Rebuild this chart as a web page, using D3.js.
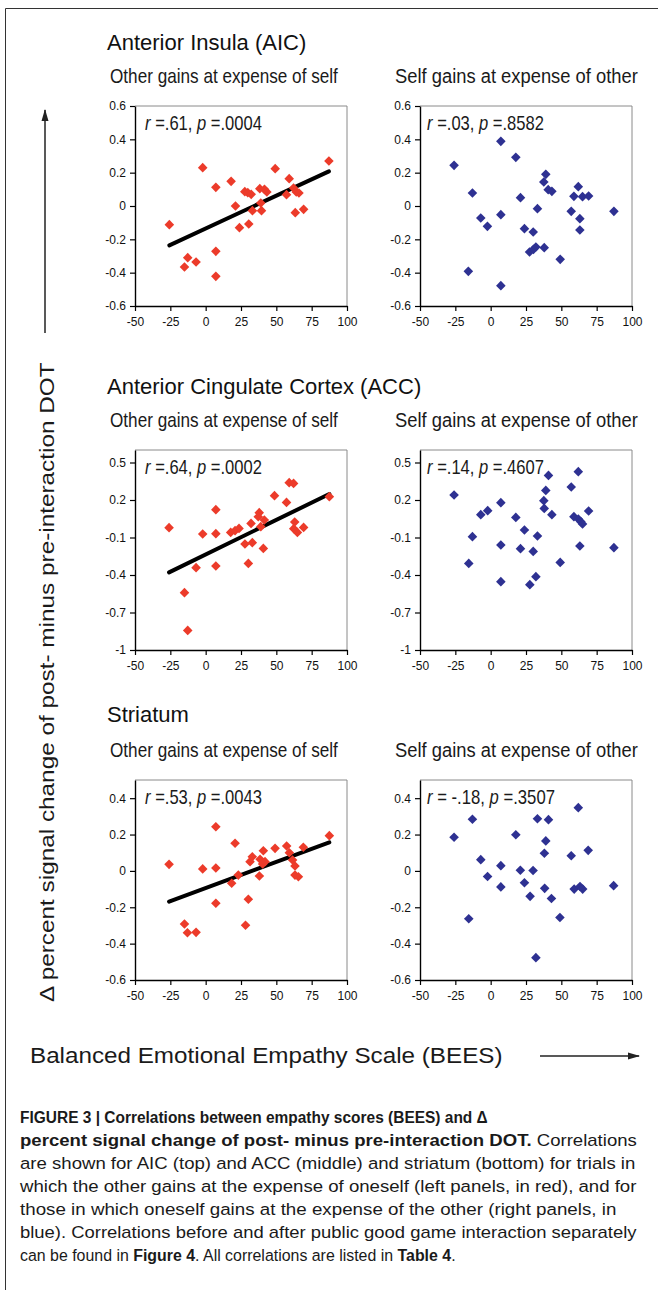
<!DOCTYPE html>
<html>
<head>
<meta charset="utf-8">
<script src="https://cdn.jsdelivr.net/npm/d3@7"></script>
<style>
  body { margin: 0; background: #fff; }
  svg { display: block; }
</style>
</head>
<body>
<svg id="fig" width="658" height="1290"></svg>
<script>
// BEES score (x) and delta signal change (y) for each panel
const aicOtherX = [-25.7, -15.0, -12.7, -6.8, -2.1, 7.2, 7.2, 7.2, 18.0, 21.1, 23.9, 27.7, 29.8, 32.2, 30.5, 33.1, 38.3, 39.0, 39.5, 41.6, 43.3, 49.2, 57.2, 59.1, 62.2, 63.4, 64.1, 66.0, 69.3, 87.2];
const aicOtherY = [-0.112, -0.366, -0.31, -0.336, 0.23, 0.112, -0.272, -0.422, 0.148, 0.0, -0.13, 0.086, 0.08, 0.07, -0.108, -0.028, 0.104, 0.018, -0.028, 0.1, 0.084, 0.224, 0.068, 0.164, 0.108, -0.04, 0.084, 0.078, -0.02, 0.27];
const aicSelfX = [-25.9, -15.8, -12.9, -7.0, -2.3, 7.2, 7.2, 7.2, 17.8, 21.1, 23.9, 27.5, 30.1, 30.3, 32.0, 33.1, 37.6, 39.0, 37.9, 40.7, 43.3, 49.2, 57.0, 58.9, 62.0, 63.1, 63.1, 65.0, 69.3, 87.2];
const aicSelfY = [0.244, -0.392, 0.078, -0.072, -0.122, 0.388, -0.052, -0.478, 0.292, 0.05, -0.136, -0.276, -0.156, -0.26, -0.246, -0.016, 0.144, 0.19, -0.25, 0.098, 0.088, -0.32, -0.032, 0.058, 0.116, -0.076, -0.144, 0.056, 0.06, -0.032];

const accOtherX = [-25.9, -15.0, -12.7, -6.8, -2.1, 7.2, 7.2, 7.2, 17.7, 20.8, 23.6, 27.8, 30.2, 32.1, 33.0, 37.9, 37.2, 39.0, 40.8, 41.5, 48.7, 57.2, 59.1, 62.2, 63.0, 62.3, 64.9, 69.3, 87.5];
const accOtherY = [-0.021, -0.541, -0.843, -0.341, -0.072, 0.123, -0.069, -0.328, -0.059, -0.045, -0.027, -0.152, -0.307, 0.013, -0.141, 0.099, 0.066, -0.013, -0.187, 0.04, 0.235, 0.181, 0.339, 0.333, 0.024, -0.029, -0.059, -0.019, 0.227];
const accSelfX = [-25.9, -15.5, -12.9, -7.0, -2.1, 7.2, 7.2, 7.2, 17.8, 21.1, 23.9, 27.7, 30.1, 32.0, 33.1, 37.6, 37.9, 39.0, 40.9, 43.3, 49.2, 57.0, 58.9, 62.0, 62.0, 63.1, 63.8, 65.0, 69.3, 87.2];
const accSelfY = [0.24, -0.307, -0.093, 0.083, 0.115, 0.179, -0.16, -0.453, 0.061, -0.189, -0.04, -0.477, -0.211, -0.413, -0.088, 0.195, 0.133, 0.277, 0.397, 0.083, -0.299, 0.304, 0.067, 0.427, 0.048, -0.168, 0.027, 0.008, 0.112, -0.181];

const strOtherX = [-25.9, -15.0, -12.9, -6.8, -2.1, 7.2, 7.2, 7.2, 18.4, 20.8, 23.1, 28.2, 30.2, 31.4, 33.0, 38.5, 38.0, 40.3, 40.8, 42.0, 49.1, 57.3, 59.2, 61.5, 63.2, 63.2, 65.6, 69.1, 87.5];
const strOtherY = [0.036, -0.292, -0.34, -0.338, 0.011, 0.243, 0.016, -0.178, -0.068, 0.152, -0.023, -0.299, -0.156, 0.051, 0.078, 0.064, -0.028, 0.038, 0.111, 0.051, 0.124, 0.137, 0.1, 0.06, 0.027, -0.023, -0.032, 0.13, 0.194];
const strSelfX = [-25.9, -15.5, -12.9, -7.0, -2.2, 7.2, 7.2, 17.8, 21.0, 23.9, 27.9, 30.0, 32.0, 33.1, 38.0, 38.2, 39.0, 40.9, 43.0, 49.0, 57.0, 59.1, 62.0, 63.2, 65.1, 69.0, 87.0];
const strSelfY = [0.185, -0.263, 0.284, 0.062, -0.031, 0.029, -0.088, 0.199, 0.004, -0.065, -0.14, 0.002, -0.477, 0.287, 0.097, -0.096, 0.165, 0.282, -0.152, -0.256, 0.083, -0.1, 0.348, -0.086, -0.1, 0.113, -0.081];

// regression line end points (left panels only)
const aicFit = [[-25.7, -0.236], [87.2, 0.208]];
const accFit = [[-25.9, -0.379], [87.5, 0.248]];
const strFit = [[-25.9, -0.169], [87.5, 0.157]];

const regions = ["Anterior Insula (AIC)", "Anterior Cingulate Cortex (ACC)", "Striatum"];
const conditions = ["Other gains at expense of self", "Self gains at expense of other"];
const rStats = ["=.61", "=.03", "=.64", "=.14", "=.53", "= -.18"];
const pStats = ["=.0004", "=.8582", "=.0002", "=.4607", "=.0043", "=.3507"];

const xTicks = [-50, -25, 0, 25, 50, 75, 100];
const yDomains = [[-0.6, 0.6], [-1, 0.6], [-0.6, 0.5]];
const yTicks = [
    [-0.6, -0.4, -0.2, 0, 0.2, 0.4, 0.6],
    [-1, -0.7, -0.4, -0.1, 0.2, 0.5],
    [-0.6, -0.4, -0.2, 0, 0.2, 0.4]
];

const captionLines = [
    [["FIGURE 3 | Correlations between empathy scores (BEES) and \u0394", true]],
    [["percent signal change of post- minus pre-interaction DOT.", true], [" Correlations", false]],
    [["are shown for AIC (top) and ACC (middle) and striatum (bottom) for trials in", false]],
    [["which the other gains at the expense of oneself (left panels, in red), and for", false]],
    [["those in which oneself gains at the expense of the other (right panels, in", false]],
    [["blue). Correlations before and after public good game interaction separately", false]],
    [["can be found in ", false], ["Figure 4", true], [". All correlations are listed in ", false], ["Table 4", true], [".", false]]
];

const RED = "#ec3b2a", BLUE = "#2e3192";
const SANS = "'Liberation Sans', Arial, Helvetica, sans-serif";

const panels = [
    { row: 0, col: 0, xs: aicOtherX, ys: aicOtherY, color: RED, fit: aicFit },
    { row: 0, col: 1, xs: aicSelfX, ys: aicSelfY, color: BLUE, fit: null },
    { row: 1, col: 0, xs: accOtherX, ys: accOtherY, color: RED, fit: accFit },
    { row: 1, col: 1, xs: accSelfX, ys: accSelfY, color: BLUE, fit: null },
    { row: 2, col: 0, xs: strOtherX, ys: strOtherY, color: RED, fit: strFit },
    { row: 2, col: 1, xs: strSelfX, ys: strSelfY, color: BLUE, fit: null }
];

const colX = [[135, 347], [420, 632]];
const rowY = [[106, 306], [450, 650], [780, 980]];
const titleY = [50, 394, 722];
const subY = [83, 427, 757];

const svg = d3.select("#fig");
svg.append("rect").attr("width", 658).attr("height", 1290).attr("fill", "#fff");

// squeeze a text horizontally so it spans `width` px (condensed face look-alike)
function condensed(parent, x, y, width, size, parts) {
    const t = parent.append("text")
        .attr("font-family", SANS).attr("font-size", size)
        .attr("fill", "#1a1a1a");
    parts.forEach(([s, style]) => {
        const sp = t.append("tspan").text(s);
        if (style === "b") sp.attr("font-weight", "bold");
        if (style === "i") sp.attr("font-style", "italic");
    });
    const w = t.node().getComputedTextLength();
    t.attr("transform", `translate(${x},${y}) scale(${width / w},1)`);
    return t;
}

// plain hyphen minus like the original spreadsheet labels
const tickFmt = d => String(Math.round(d * 10) / 10);

// frame
svg.append("path")
    .attr("d", "M5.5,1290V8.5H658")
    .attr("fill", "none")
    .attr("stroke", "#333")
    .attr("stroke-width", 1);

const defs = svg.append("defs");
defs.append("marker")
    .attr("id", "arrow")
    .attr("viewBox", "0 -5 12 10")
    .attr("refX", 11)
    .attr("refY", 0)
    .attr("markerUnits", "userSpaceOnUse")
    .attr("markerWidth", 12)
    .attr("markerHeight", 10)
    .attr("orient", "auto")
    .append("path")
    .attr("d", "M0,-3.5L12,0L0,3.5Z")
    .attr("fill", "#222");

// row titles and condition titles
regions.forEach((t, i) => {
    svg.append("text")
        .attr("x", 107).attr("y", titleY[i])
        .attr("font-family", SANS).attr("font-size", 22)
        .attr("fill", "#111")
        .text(t);
    conditions.forEach((c, j) => {
        condensed(svg, j === 0 ? 110 : 395, subY[i], j === 0 ? 228 : 243, 20, [[c, "n"]]);
    });
});

const diamond = d3.symbol().type(d3.symbolSquare).size(46);

panels.forEach((p, i) => {
    const [x0, x1] = colX[p.col];
    const [y0, y1] = rowY[p.row];
    const x = d3.scaleLinear().domain([-50, 100]).range([x0, x1]);
    const y = d3.scaleLinear().domain(yDomains[p.row]).range([y1, y0]);
    const g = svg.append("g").attr("class", "panel");

    // grey box on top and right
    g.append("path")
        .attr("d", `M${x0},${y0}H${x1}V${y1}`)
        .attr("fill", "none")
        .attr("stroke", "#8a8a8a")
        .attr("stroke-width", 1);

    const yAxis = g.append("g")
        .attr("transform", `translate(${x0},0)`)
        .call(d3.axisLeft(y).tickValues(yTicks[p.row]).tickSize(5).tickSizeOuter(0).tickPadding(4)
            .tickFormat(tickFmt));
    const xAxis = g.append("g")
        .attr("transform", `translate(0,${y1})`)
        .call(d3.axisBottom(x).tickValues(xTicks).tickSize(5).tickSizeOuter(0).tickPadding(6)
            .tickFormat(tickFmt));

    [yAxis, xAxis].forEach(a => {
        a.select(".domain").attr("stroke", "#000").attr("stroke-width", 1.4);
        a.selectAll(".tick line").attr("stroke", "#000").attr("stroke-width", 1.2);
        a.selectAll(".tick text")
            .attr("font-family", SANS).attr("font-size", 12).attr("fill", "#111");
    });

    if (p.fit) {
        g.append("line")
            .attr("x1", x(p.fit[0][0])).attr("y1", y(p.fit[0][1]))
            .attr("x2", x(p.fit[1][0])).attr("y2", y(p.fit[1][1]))
            .attr("stroke", "#000")
            .attr("stroke-width", 4)
            .attr("stroke-linecap", "round");
    }

    g.selectAll(".pt")
        .data(p.xs.map((v, k) => [v, p.ys[k]]))
        .enter()
        .append("path")
        .attr("class", "pt")
        .attr("d", diamond)
        .attr("transform", d => `translate(${x(d[0])},${y(d[1])}) rotate(45)`)
        .attr("fill", p.color);

    condensed(g, x0 + (p.col === 0 ? 10 : 7), y0 + 24, i === 5 ? 128 : 117, 20, [
        ["r", "i"], [" " + rStats[i] + ", ", "n"], ["p", "i"], [" " + pStats[i], "n"]
    ]);
});

// shared axis labels with arrows
const yl = condensed(svg, 0, 0, 640, 21,
    [["\u0394 percent signal change of post- minus pre-interaction DOT", "n"]]);
yl.attr("transform", `translate(54,1002) rotate(-90) ${yl.attr("transform").replace("translate(0,0) ", "")}`);

svg.append("line")
    .attr("x1", 45).attr("y1", 333).attr("x2", 45).attr("y2", 110)
    .attr("stroke", "#222").attr("stroke-width", 1.5)
    .attr("marker-end", "url(#arrow)");

condensed(svg, 30, 1063, 473, 22, [["Balanced Emotional Empathy Scale (BEES)", "n"]]);

svg.append("line")
    .attr("x1", 540).attr("y1", 1056).attr("x2", 639).attr("y2", 1056)
    .attr("stroke", "#222").attr("stroke-width", 1.5)
    .attr("marker-end", "url(#arrow)");

// caption
const captionWidths = [468, 617, 616, 617, 597, 617, 436];
captionLines.forEach((parts, i) => {
    condensed(svg, 20, 1123 + i * 23, captionWidths[i], 17,
        parts.map(([s, bold]) => [s, bold ? "b" : "n"]));
});
</script>
</body>
</html>
